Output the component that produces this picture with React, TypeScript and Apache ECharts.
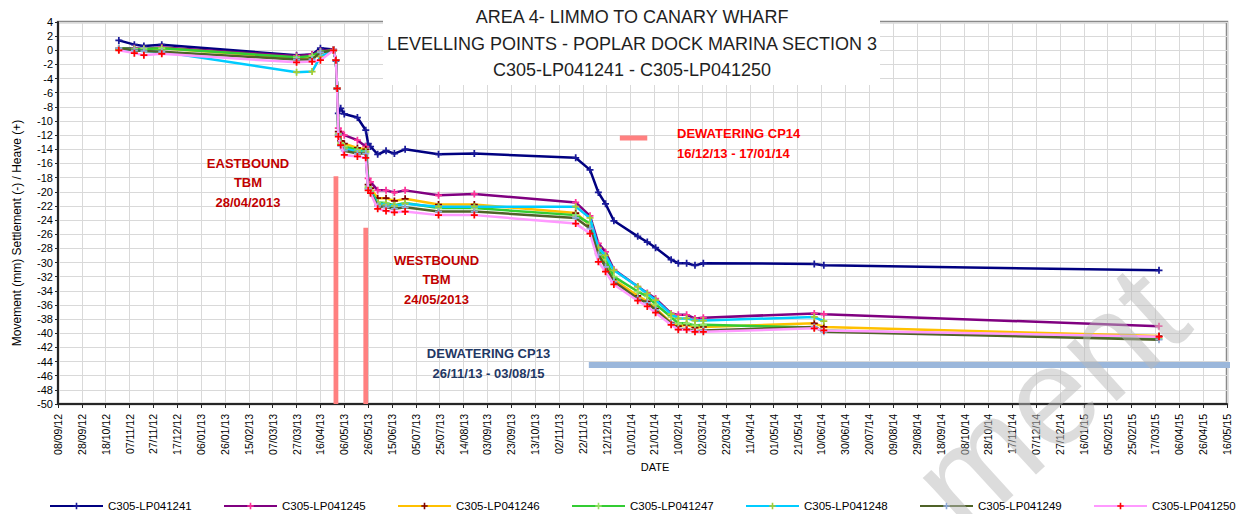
import React, { useEffect, useRef } from 'react';
import * as echarts from 'echarts';

// ---------- DATA ----------
const DATES = [
  '2012-10-29', '2012-11-11', '2012-11-19', '2012-12-04', '2013-03-27', '2013-04-09', '2013-04-16',
  '2013-04-27', '2013-04-29', '2013-04-30', '2013-05-01', '2013-05-03', '2013-05-06', '2013-05-17',
  '2013-05-24', '2013-05-26', '2013-05-28', '2013-06-03', '2013-06-10', '2013-06-17', '2013-06-26',
  '2013-07-24', '2013-08-23', '2013-11-16', '2013-11-28', '2013-12-05', '2013-12-11', '2013-12-18',
  '2014-01-07', '2014-01-15', '2014-01-22', '2014-02-04', '2014-02-10', '2014-02-17', '2014-02-24',
  '2014-03-03', '2014-06-04', '2014-06-12', '2015-03-20',
];

const LP041241 = [1.4, 0.8, 0.6, 0.8, -0.7, -0.6, 0.3, 0.1, -1.5, -5.5, -8.9, -8.2, -9.0, -9.5, -11.3, -13.2, -13.6, -14.7, -14.2, -14.6, -14.0, -14.7, -14.6, -15.2, -16.9, -20.1, -21.7, -24.1, -26.3, -27.1, -27.9, -29.6, -30.1, -30.1, -30.4, -30.1, -30.2, -30.4, -31.1];
const LP041245 = [0.3, 0.3, 0.2, 0.4, -0.8, -0.6, -0.1, 0.1, -1.4, -5.4, -11.0, -11.5, -12.0, -12.7, -13.6, -18.1, -18.6, -19.8, -19.8, -20.1, -19.8, -20.5, -20.3, -21.5, -23.4, -27.3, -28.5, -31.0, -33.4, -34.3, -35.1, -37.2, -37.4, -37.4, -37.9, -37.8, -37.2, -37.3, -39.0];
const LP041246 = [0.2, 0.1, 0.1, 0.3, -1.1, -1.0, -0.3, 0.0, -1.4, -5.4, -11.5, -12.8, -13.2, -13.8, -14.0, -19.0, -19.5, -20.9, -20.9, -21.3, -21.0, -21.8, -21.8, -23.0, -24.7, -28.7, -30.0, -32.4, -34.7, -35.5, -36.5, -38.5, -39.0, -38.8, -39.2, -39.1, -38.6, -39.1, -40.4];
const LP041247 = [0.3, 0.2, 0.2, 0.3, -1.0, -0.8, -0.2, 0.0, -1.4, -5.4, -11.8, -13.1, -13.6, -14.1, -14.3, -19.3, -19.8, -21.5, -21.6, -21.9, -21.6, -22.3, -22.3, -23.3, -24.5, -28.3, -29.6, -32.0, -34.1, -34.8, -35.9, -37.7, -38.6, -38.6, -38.9, -38.8, -39.2, -39.6, -40.8];
const LP041248 = [0.1, 0.0, -0.1, -0.2, -3.1, -3.0, -0.9, 0.0, -1.4, -5.4, -12.0, -13.3, -13.9, -14.3, -14.4, -19.5, -20.0, -21.7, -21.8, -22.0, -21.7, -22.1, -22.1, -22.1, -23.7, -27.9, -29.0, -31.1, -33.4, -34.4, -35.3, -37.3, -37.9, -37.9, -38.2, -38.2, -37.7, -38.3, null];
const LP041249 = [0.3, 0.0, -0.1, -0.2, -1.3, -1.3, -0.3, 0.0, -1.4, -5.4, -12.0, -13.5, -14.2, -14.6, -14.6, -19.6, -20.1, -22.0, -22.2, -22.4, -22.2, -22.8, -22.8, -23.7, -25.2, -28.9, -30.6, -32.7, -35.1, -35.7, -36.7, -38.6, -39.4, -39.4, -39.7, -39.6, -39.1, -39.8, -40.9];
const LP041250 = [0.0, -0.4, -0.7, -0.5, -1.7, -1.6, -1.4, 0.0, -1.4, -5.4, -12.2, -13.4, -14.8, -15.0, -15.2, -19.8, -20.2, -22.4, -22.7, -22.9, -22.8, -23.3, -23.3, -24.5, -25.9, -29.9, -31.3, -33.1, -35.4, -36.2, -37.1, -38.8, -39.5, -39.5, -39.8, -39.8, -39.3, -39.6, -40.5];

const SERIES_NAMES = ['C305-LP041241', 'C305-LP041245', 'C305-LP041246', 'C305-LP041247', 'C305-LP041248', 'C305-LP041249', 'C305-LP041250'];
const SERIES_VALUES = [LP041241, LP041245, LP041246, LP041247, LP041248, LP041249, LP041250];

// TBM drive periods: [start, end, top of bar]
const TBM_BARS: [string, string, number][] = [
  ['2013-04-27', '2013-05-01', -17.8],
  ['2013-05-22', '2013-05-26', -25.1],
];
const CP13_DATES = ['2013-11-27', '2015-08-03'];
const CP13_LEVEL = -44.5;
const CP14_DATES = ['2013-12-23', '2014-01-15'];
const CP14_LEVEL = -12.4;

const X_MIN_DATE = '2012-09-08';
const X_MAX_DATE = '2015-05-16';
const X_TICK_DAYS = 20;
const Y_MIN = -50;
const Y_MAX = 4;
const Y_STEP = 2;

const TITLE_LINES = ['AREA 4- LIMMO TO CANARY WHARF', 'LEVELLING POINTS - POPLAR DOCK MARINA SECTION 3', 'C305-LP041241 - C305-LP041250'];

// ---------- STYLE ----------
const LINE_COLORS = ['#000080', '#800080', '#FFC000', '#33CC33', '#00CCFF', '#4F6228', '#FF99FF'];
const MARKER_COLORS = ['#1a1a99', '#FF3399', '#800000', '#99E066', '#A6CC33', '#8EA9DB', '#FF0000'];
const FONT = '"Liberation Sans", Arial, sans-serif';
const CROSS = 'path://M3,0H5V3H8V5H5V8H3V5H0V3H3Z';

const BASE = Date.UTC(2012, 8, 8);
function toDay(s: string): number {
  const [y, m, d] = s.split('-').map(Number);
  return Math.round((Date.UTC(y, m - 1, d) - BASE) / 86400000);
}
function fmt(day: number): string {
  const dt = new Date(BASE + Math.round(day) * 86400000);
  const dd = String(dt.getUTCDate()).padStart(2, '0');
  const mm = String(dt.getUTCMonth() + 1).padStart(2, '0');
  const yy = String(dt.getUTCFullYear() % 100).padStart(2, '0');
  return `${dd}/${mm}/${yy}`;
}

export default function App() {
  const ref = useRef<HTMLDivElement>(null);
  useEffect(() => {
    document.body.style.margin = '0';
    if (!ref.current) return;
    const chart = echarts.init(ref.current, null, { renderer: 'svg' });

    const lineSeries = SERIES_VALUES.map((vals, i) => ({
      name: SERIES_NAMES[i],
      type: 'line',
      data: DATES.map((d, j) => (vals[j] == null ? null : [toDay(d), vals[j]])).filter((p) => p !== null),
      symbol: CROSS,
      symbolSize: 7,
      showSymbol: true,
      showAllSymbol: true,
      lineStyle: { width: 2.5, color: LINE_COLORS[i] },
      itemStyle: { color: MARKER_COLORS[i] },
      z: 3 + i,
    }));

    const option: any = {
      animation: false,
      grid: { left: 58, right: 15, top: 22, bottom: 110, show: true, borderColor: '#8a8a8a', borderWidth: 2.5, backgroundColor: 'transparent' },
      xAxis: {
        type: 'value',
        min: toDay(X_MIN_DATE),
        max: toDay(X_MAX_DATE),
        interval: X_TICK_DAYS,
        axisLine: { onZero: false, lineStyle: { color: '#262626', width: 2 } },
        axisTick: { show: true, length: 4, lineStyle: { color: '#262626' } },
        axisLabel: { rotate: 90, margin: 10, fontSize: 10.5, color: '#000', fontFamily: FONT, formatter: (v: number) => fmt(v) },
        splitLine: { show: true, lineStyle: { color: '#D9D9D9', width: 1 } },
      },
      yAxis: {
        type: 'value',
        min: Y_MIN,
        max: Y_MAX,
        interval: Y_STEP,
        axisLine: { show: true, onZero: false, lineStyle: { color: '#262626', width: 2 } },
        axisTick: { show: true, length: 3, lineStyle: { color: '#262626' } },
        axisLabel: { margin: 5, fontSize: 11, color: '#000', fontFamily: FONT },
        splitLine: { show: true, lineStyle: { color: '#D9D9D9', width: 1 } },
      },
      legend: SERIES_NAMES.map((n, i) => ({
        data: [n],
        left: 49 + i * 174,
        top: 500,
        padding: 0,
        itemWidth: 53,
        itemHeight: 8,
        itemGap: 0,
        selectedMode: false,
        textStyle: { fontSize: 11.5, color: '#000', fontFamily: FONT },
      })),
      series: [
        {
          name: 'TBM',
          type: 'custom',
          silent: true,
          z: 1,
          data: TBM_BARS.map((b) => [toDay(b[0]), toDay(b[1]), b[2]]),
          encode: { x: [0, 1], y: 2 },
          renderItem: (_p: any, api: any) => {
            const a = api.coord([api.value(0), api.value(2)]);
            const b = api.coord([api.value(1), Y_MIN]);
            return { type: 'rect', shape: { x: a[0], y: a[1], width: b[0] - a[0], height: b[1] - a[1] }, style: { fill: '#FF8080' } };
          },
        },
        {
          name: 'CP13',
          type: 'line',
          silent: true,
          symbol: 'none',
          clip: true,
          z: 1,
          data: CP13_DATES.map((d) => [toDay(d), CP13_LEVEL]),
          lineStyle: { width: 6, color: '#9BB7DB', cap: 'butt' },
        },
        {
          name: 'CP14',
          type: 'line',
          silent: true,
          symbol: 'none',
          z: 1,
          data: CP14_DATES.map((d) => [toDay(d), CP14_LEVEL]),
          lineStyle: { width: 5, color: '#FF8080', cap: 'butt' },
        },
        ...lineSeries,
      ],
      graphic: [
        { type: 'rect', z: 50, silent: true, shape: { x: 383, y: 0, width: 497, height: 85 }, style: { fill: '#fff' } },
        ...TITLE_LINES.map((t, i) => ({
          type: 'text', z: 51, x: 632, y: 17 + i * 26.5, silent: true,
          style: { text: t, fill: '#1f1f1f', fontSize: 18, fontFamily: FONT, align: 'center', verticalAlign: 'middle' },
        })),
        {
          type: 'text', z: 51, x: 248, y: 182.5, silent: true,
          style: { text: 'EASTBOUND\nTBM\n28/04/2013', fill: '#C00000', fontSize: 13, fontWeight: 'bold', fontFamily: FONT, align: 'center', verticalAlign: 'middle', lineHeight: 19.5 },
        },
        {
          type: 'text', z: 51, x: 436.5, y: 279.5, silent: true,
          style: { text: 'WESTBOUND\nTBM\n24/05/2013', fill: '#C00000', fontSize: 13, fontWeight: 'bold', fontFamily: FONT, align: 'center', verticalAlign: 'middle', lineHeight: 19.5 },
        },
        {
          type: 'text', z: 51, x: 677, y: 143, silent: true,
          style: { text: 'DEWATERING CP14\n16/12/13 - 17/01/14', fill: '#FF0000', fontSize: 13, fontWeight: 'bold', fontFamily: FONT, align: 'left', verticalAlign: 'middle', lineHeight: 20 },
        },
        {
          type: 'text', z: 51, x: 488.5, y: 363, silent: true,
          style: { text: 'DEWATERING CP13\n26/11/13 - 03/08/15', fill: '#1F3864', fontSize: 13, fontWeight: 'bold', fontFamily: FONT, align: 'center', verticalAlign: 'middle', lineHeight: 20 },
        },
        {
          type: 'text', z: 51, x: 17, y: 233, rotation: Math.PI / 2, silent: true,
          style: { text: 'Movement (mm) Settlement (-) / Heave (+)', fill: '#000', fontSize: 12, fontFamily: FONT, align: 'center', verticalAlign: 'middle' },
        },
        {
          type: 'text', z: 51, x: 655, y: 467, silent: true,
          style: { text: 'DATE', fill: '#000', fontSize: 11, fontFamily: FONT, align: 'center', verticalAlign: 'middle' },
        },
        {
          type: 'text', z: 100, x: 1048, y: 398, rotation: 0.74, silent: true,
          style: { text: 'ment', fill: 'rgba(185,185,185,0.5)', fontSize: 140, fontFamily: FONT, align: 'center', verticalAlign: 'middle' },
        },
      ],
    };
    chart.setOption(option);
    return () => chart.dispose();
  }, []);
  return <div ref={ref} style={{ width: 1242, height: 514 }} />;
}
